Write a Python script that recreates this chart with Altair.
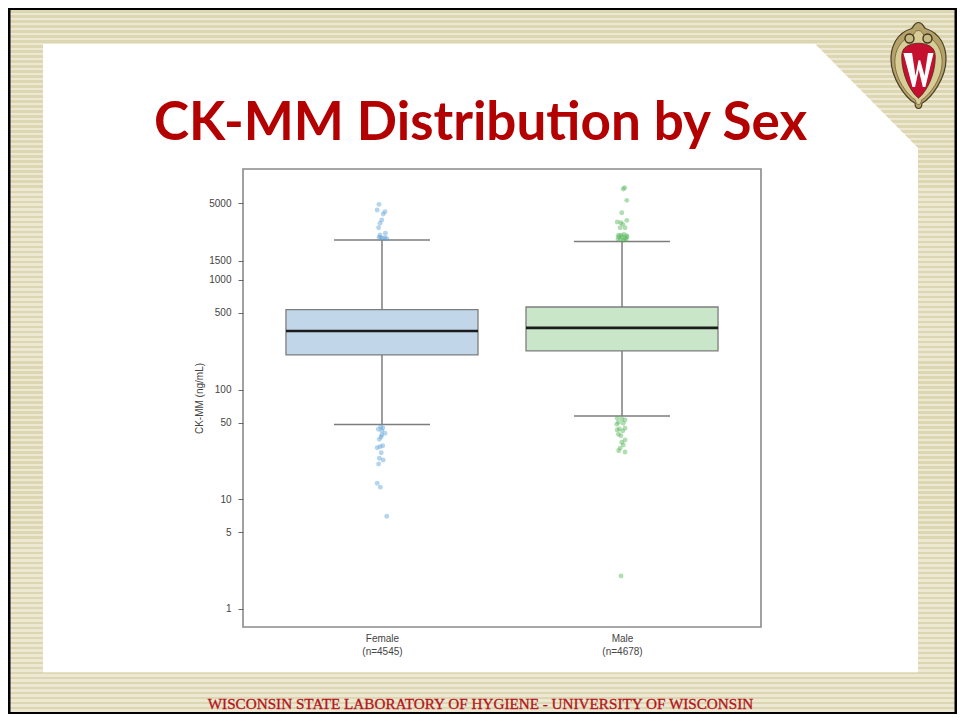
import altair as alt
import pandas as pd

CATS = {1: "Female", 2: "Male"}
NS = {1: 4545, 2: 4678}
Y_TICKS = [1, 5, 10, 50, 100, 500, 1000, 1500, 5000]
TITLE = "CK-MM Distribution by Sex"
FOOTER = "WISCONSIN STATE LABORATORY OF HYGIENE - UNIVERSITY OF WISCONSIN"
Y_LABEL = "CK-MM (ng/mL)"

# Box statistics
pos = [1, 2]
q1 = [207, 225]
median = [342, 365]
q3 = [537, 566]
whisk_low = [48, 57.5]
whisk_high = [2310, 2240]

# Outliers (jittered position, value)
female_x = [0.9875, 0.98, 1.0125, 1.005, 0.999, 0.992, 0.986, 1.014, 0.992, 0.9875, 1.0125, 1.003, 0.995, 1.02,
            0.995, 1.004, 0.985, 0.999, 1.0125, 0.999, 0.996, 0.989, 1.003, 0.992, 0.98, 0.997, 0.989, 1.005, 0.986, 0.98, 0.993, 1.02]
female_y = [4887, 4335, 4186, 3987, 3516, 3281, 2992, 2660, 2566, 2445, 2426, 2394, 2430, 2375,
            45.9, 44.7, 43.5, 42.2, 40, 38.6, 37, 35.2, 30.8, 30.2, 29.5, 26.6, 23.7, 22.8, 21, 14, 12.9, 7.0]
male_x = [2.011, 2.005, 2.02, 1.999, 1.98, 1.995, 2.02, 2.003, 2.0125, 1.992,
          1.985, 1.996, 2.008, 2.019, 1.987, 2.0, 2.0125, 2.021, 1.983, 1.994, 2.006, 2.017,
          1.98, 1.999, 2.0125, 1.985, 2.005, 1.978, 1.989, 2.0125, 2.003, 1.98, 1.985, 1.995, 2.0125, 1.999, 2.005, 1.992, 1.986, 2.0125, 1.996]
male_y = [6925, 6741, 5315, 4098, 3373, 3322, 3491, 3212, 2992, 2992,
          2560, 2560, 2594, 2530, 2460, 2460, 2400, 2460, 2360, 2330, 2300, 2330,
          54.8, 54, 52.8, 50.3, 49.3, 48.3, 43.7, 44.4, 42, 42.8, 39.1, 38, 34.7, 33.1, 31.3, 29.2, 27.7, 27, 2.0]

BOX_COLORS = ["#c1d6e8", "#cae6c9"]
PT_BLUE = "#5c9fd6"
PT_GREEN = "#4fb455"
GREY = "#7d7d7d"

# Plot rectangle on the page
PX0, PY0 = 243, 169
W, H = 518, 458
PAGE_RIGHT, PAGE_BOTTOM = 957, 714


def px(x):
    return x - PX0


def py(y):
    return y - PY0


one = alt.Data(values=[{"a": 1}])
boxes = pd.DataFrame({
    "pos": pos,
    "left": [p - 0.4 for p in pos],
    "right": [p + 0.4 for p in pos],
    "capl": [p - 0.2 for p in pos],
    "capr": [p + 0.2 for p in pos],
    "q1": q1, "median": median, "q3": q3, "lo": whisk_low, "hi": whisk_high,
    "cat": [CATS[p] for p in pos],
})

xs = alt.Scale(domain=[0.421, 2.579], nice=False, zero=False)
ys = alt.Scale(type="log", domain=[0.685, 10260], nice=False)
label_expr = "datum.value == 1 ? ['%s', '(n=%d)'] : ['%s', '(n=%d)']" % (CATS[1], NS[1], CATS[2], NS[2])
x_axis = alt.Axis(values=pos, labelExpr=label_expr, title=None, grid=False, ticks=False, domain=False,
                  labelFont="Liberation Sans", labelFontSize=10, labelColor="#444444", labelPadding=6,
                  labelLineHeight=13, zindex=1, labelBaseline="top")
y_axis = alt.Axis(values=Y_TICKS, format="d", title=Y_LABEL, grid=False, tickSize=5, tickColor="#666666",
                  tickWidth=1, domain=False, labelFont="Liberation Sans", labelFontSize=10, labelColor="#444444",
                  labelPadding=7, titleFont="Liberation Sans", titleFontSize=10, titleFontWeight="normal",
                  titleColor="#444444", titlePadding=4, zindex=1, labelOverlap=False)


def rect(x0, y0, x1, y1, **kw):
    return alt.Chart(one).mark_rect(**kw).encode(
        x=alt.value(px(x0)), x2=alt.value(px(x1)), y=alt.value(py(y0)), y2=alt.value(py(y1)))


def shape(cx, cy, span, path, **kw):
    return alt.Chart(one).mark_point(shape=path, size=span * span, filled=True, **kw).encode(
        x=alt.value(px(cx)), y=alt.value(py(cy)))


# Striped slide background as one gradient rectangle
STRIPE_DARK = "#dcd7b1"
STRIPE_LIGHT = "#ece8d4"
stripe_top, stripe_bottom = 10, PAGE_BOTTOM - 2
period = 5.0
n = int((stripe_bottom - stripe_top) / period)
stops = []
for i in range(n):
    a = i / n
    m = (i + 0.5) / n
    b = (i + 1) / n
    stops += [alt.GradientStop(offset=a, color=STRIPE_DARK), alt.GradientStop(offset=m, color=STRIPE_DARK),
              alt.GradientStop(offset=m, color=STRIPE_LIGHT), alt.GradientStop(offset=b, color=STRIPE_LIGHT)]
grad = alt.LinearGradient(gradient="linear", stops=stops, x1=0, x2=0, y1=0, y2=1)

PANEL = "M-1,-0.718 L0.765,-0.718 L1,-0.48 L1,0.718 L-1,0.718 Z"
EGG = ("M0,-1 C0.1,-1 0.1,-0.92 0.16,-0.86 C0.5,-0.76 0.64,-0.45 0.64,-0.15 C0.64,0.3 0.3,0.75 0.08,0.88 "
       "C0.08,0.96 0.04,1 0,1 C-0.04,1 -0.08,0.96 -0.08,0.88 C-0.3,0.75 -0.64,0.3 -0.64,-0.15 "
       "C-0.64,-0.45 -0.5,-0.76 -0.16,-0.86 C-0.1,-0.92 -0.1,-1 0,-1 Z")
SHIELD = ("M-0.2,-0.48 C-0.1,-0.53 0.1,-0.53 0.2,-0.48 C0.32,-0.44 0.39,-0.36 0.39,-0.2 C0.39,0.2 0.2,0.6 0,0.76 "
          "C-0.2,0.6 -0.39,0.2 -0.39,-0.2 C-0.39,-0.36 -0.32,-0.44 -0.2,-0.48 Z")
W_GLYPH = ("M-0.35,-0.29 L-0.15,-0.29 L-0.07,0.24 L0,-0.12 L0.04,-0.12 L0.14,0.24 L0.22,-0.29 L0.35,-0.29 "
           "L0.16,0.5 L0.1,0.5 L0.005,0.1 L-0.08,0.5 L-0.14,0.5 Z")
SCROLL = "M0,-1 C0.55,-1 1,-0.55 1,0 C1,0.55 0.55,1 0,1 C-0.55,1 -1,0.55 -1,0 C-1,-0.55 -0.55,-1 0,-1 Z"

LOGO_CX, LOGO_CY, LOGO_SPAN = 918.5, 65.5, 86

deco = [
    rect(8, 8, PAGE_RIGHT, PAGE_BOTTOM, fill="#000000"),
    rect(10.5, stripe_top, PAGE_RIGHT - 2.5, stripe_bottom, fill=grad),
    shape(480.5, 358, 875, PANEL, fill="#ffffff", opacity=1, strokeWidth=0),
    shape(LOGO_CX, LOGO_CY, LOGO_SPAN, EGG, fill="#b5a268", stroke="#4a3f2a", strokeWidth=1.2, opacity=1),
    shape(LOGO_CX, LOGO_CY + 2, LOGO_SPAN * 0.86, EGG, fill="#d9cd97", stroke="#6d5f3a", strokeWidth=0.8, opacity=1),
    shape(LOGO_CX - 9, LOGO_CY - 27, 9, SCROLL, fill="#c8ba83", stroke="#3f3522", strokeWidth=1.4, opacity=1),
    shape(LOGO_CX + 9, LOGO_CY - 27, 9, SCROLL, fill="#c8ba83", stroke="#3f3522", strokeWidth=1.4, opacity=1),
    shape(LOGO_CX, LOGO_CY, LOGO_SPAN, SHIELD, fill="#c5112f", stroke="#4a2a20", strokeWidth=0.8, opacity=1),
    shape(LOGO_CX, LOGO_CY, LOGO_SPAN, W_GLYPH, fill="#ffffff", strokeWidth=0, opacity=1),
    alt.Chart(one).mark_text(text=TITLE, font="Lato", fontWeight="bold", fontSize=53, color="#b30000",
                             align="center", baseline="alphabetic").encode(x=alt.value(px(480.5)), y=alt.value(py(140))),
    alt.Chart(one).mark_text(text=FOOTER, font="Liberation Serif", fontSize=15.2, color="#b5121b",
                             stroke="#b5121b", strokeWidth=0.3,
                             align="center", baseline="alphabetic").encode(x=alt.value(px(480.5)), y=alt.value(py(709))),
    alt.Chart(one).mark_rect(fill=None, stroke="#8a8a8a", strokeWidth=1.6).encode(
        x=alt.value(0), x2=alt.value(W), y=alt.value(0), y2=alt.value(H)),
]

whisk = alt.Chart(boxes).mark_rule(color=GREY, strokeWidth=1.5).encode(
    x=alt.X("pos:Q", scale=xs, axis=x_axis), y=alt.Y("lo:Q", scale=ys, axis=y_axis), y2="hi:Q")
cap_lo = alt.Chart(boxes).mark_rule(color=GREY, strokeWidth=1.5).encode(
    x=alt.X("capl:Q", scale=xs), x2="capr:Q", y=alt.Y("lo:Q", scale=ys))
cap_hi = alt.Chart(boxes).mark_rule(color=GREY, strokeWidth=1.5).encode(
    x=alt.X("capl:Q", scale=xs), x2="capr:Q", y=alt.Y("hi:Q", scale=ys))
box = alt.Chart(boxes).mark_rect(stroke=GREY, strokeWidth=1.3).encode(
    x=alt.X("left:Q", scale=xs), x2="right:Q", y=alt.Y("q1:Q", scale=ys), y2="q3:Q",
    fill=alt.Fill("cat:N", scale=alt.Scale(domain=[CATS[1], CATS[2]], range=BOX_COLORS), legend=None))
med = alt.Chart(boxes).mark_rule(color="#1c1c1c", strokeWidth=2.6).encode(
    x=alt.X("left:Q", scale=xs), x2="right:Q", y=alt.Y("median:Q", scale=ys))

pts_f = alt.Chart(pd.DataFrame({"x": female_x, "y": female_y})).mark_circle(size=24, opacity=0.45, color=PT_BLUE).encode(
    x=alt.X("x:Q", scale=xs), y=alt.Y("y:Q", scale=ys))
pts_m = alt.Chart(pd.DataFrame({"x": male_x, "y": male_y})).mark_circle(size=24, opacity=0.45, color=PT_GREEN).encode(
    x=alt.X("x:Q", scale=xs), y=alt.Y("y:Q", scale=ys))

chart = alt.layer(*deco, whisk, cap_lo, cap_hi, box, med, pts_f, pts_m).properties(
    width=W, height=H,
    autosize=alt.AutoSizeParams(type="none"),
    padding={"left": PX0 - 8, "top": PY0 - 8, "right": PAGE_RIGHT - (PX0 + W), "bottom": PAGE_BOTTOM - (PY0 + H)},
    background="#ffffff",
).configure_view(stroke=None)

chart.save("out.html", embed_options={"renderer": "svg", "actions": False})
